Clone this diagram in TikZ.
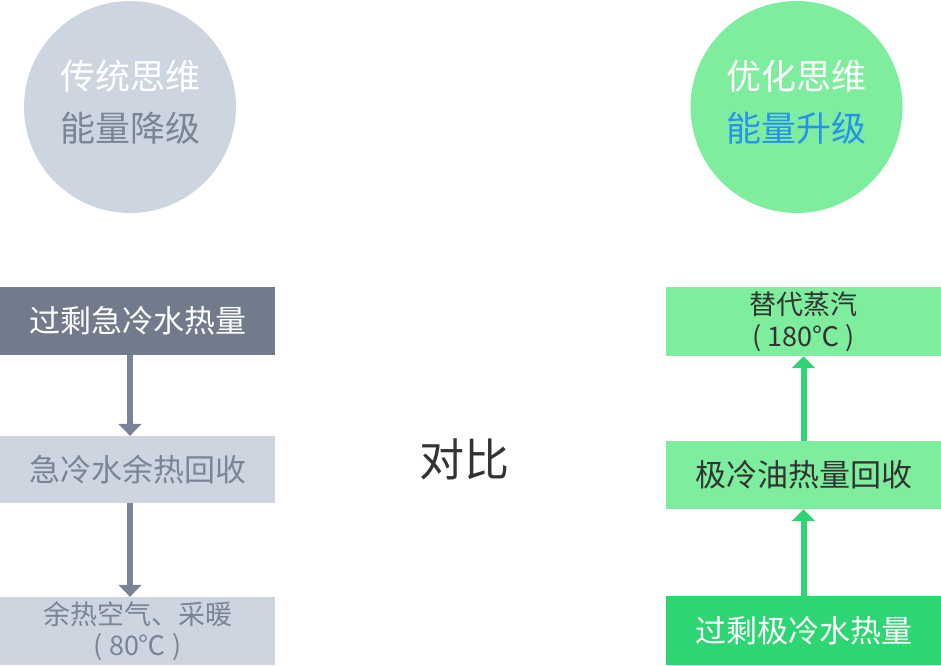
\documentclass[tikz,border=0pt]{standalone}
\usepackage{fontspec}
\setmainfont{Noto Sans CJK SC}
\usetikzlibrary{arrows.meta}

\definecolor{slate}{HTML}{727B8C}
\definecolor{mist}{HTML}{CDD6E0}
\definecolor{ash}{HTML}{7A8494}
\definecolor{mint}{HTML}{7EEE9E}
\definecolor{leaf}{HTML}{2ED573}
\definecolor{sky}{HTML}{2691F0}
\definecolor{ink}{HTML}{333333}

\tikzset{
    stage/.style={rectangle, inner sep=0pt, minimum width=275pt, align=center},
    think/.style={circle, inner sep=0pt, minimum size=212pt},
    thinktext/.style={align=center, inner sep=0pt, font=\fontsize{35}{52}\selectfont},
    flow/.style={line width=6pt, -{Triangle[length=12pt, width=23pt]}}
}

\begin{document}
\begin{tikzpicture}[x=1pt, y=-1pt]
    \useasboundingbox (0, 0) rectangle (941, 665);

    \node [think, fill=mist] (trad) at (130, 107) {};
    \node [thinktext] (tradtext) at ([yshift=5pt]trad)
        {\color{white}传统思维\\\color{ash}能量降级};
    \node [think, fill=mint] (optim) at (796.5, 107) {};
    \node [thinktext] (optimtext) at ([yshift=5pt]optim)
        {\color{white}优化思维\\\color{sky}能量升级};

    \node [stage, fill=slate, minimum height=68pt, text=white,
        font=\fontsize{31}{36}\selectfont] (gray1) at (137.5, 321) {过剩急冷水热量};
    \node [stage, fill=mist, minimum height=67pt, text=ash,
        font=\fontsize{31}{36}\selectfont] (gray2) at (137.5, 469.5) {急冷水余热回收};
    \node [stage, fill=mist, minimum height=68pt, text=ash,
        font=\fontsize{27}{31}\selectfont] (gray3) at (137.5, 631) {余热空气、采暖\\(\ 80℃\ )};

    \node [stage, fill=leaf, minimum height=69pt, text=white,
        font=\fontsize{31}{36}\selectfont] (green1) at (803.5, 630.5) {过剩极冷水热量};
    \node [stage, fill=mint, minimum height=68pt, text=ink,
        font=\fontsize{31}{36}\selectfont] (green2) at (803.5, 475) {极冷油热量回收};
    \node [stage, fill=mint, minimum height=69pt, text=ink,
        font=\fontsize{27}{32}\selectfont] (green3) at (803.5, 321.5) {替代蒸汽\\(\ 180℃\ )};

    \draw [flow, ash] (gray1.south -| trad) -- (gray2.north -| trad);
    \draw [flow, ash] (gray2.south -| trad) -- (gray3.north -| trad);

    \draw [flow, leaf] (green1) -- (green2);
    \draw [flow, leaf] (green2) -- (green3);

    \node [text=ink, font=\fontsize{45}{50}\selectfont] (versus) at (464, 459) {对比};
\end{tikzpicture}
\end{document}
